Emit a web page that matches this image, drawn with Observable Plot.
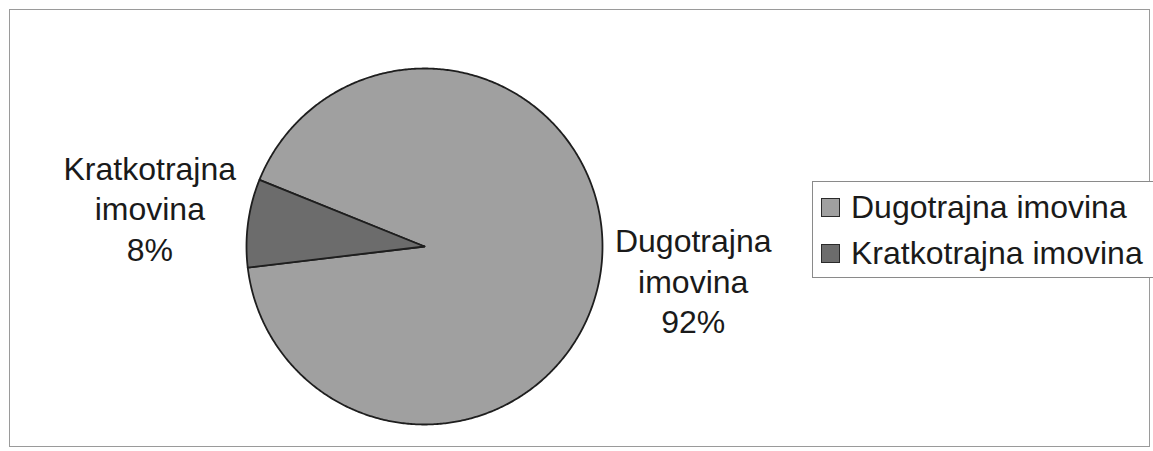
<!DOCTYPE html>
<html>
<head>
<meta charset="utf-8">
<script src="https://cdn.jsdelivr.net/npm/d3@7"></script>
<script src="https://cdn.jsdelivr.net/npm/@observablehq/plot@0.6"></script>
<style>
  html, body { margin: 0; padding: 0; background: #fff; overflow: hidden; }
  #wrap { position: relative; width: 1153px; height: 451px; font-family: "Liberation Sans", Arial, sans-serif; }
  #border { position: absolute; left: 9px; top: 9px; width: 1141px; height: 438px; border: 1.5px solid #9a9a9a; box-sizing: border-box; pointer-events: none; }
  #legend { position: absolute; left: 812px; top: 181px; width: 350px; height: 97px; border: 1px solid #8a8a8a; box-sizing: border-box; background: #fff; padding-top: 2px; }
  .row { display: flex; align-items: center; height: 46px; padding-left: 8px; font-size: 32px; color: #1a1a1a; white-space: nowrap; }
  .sw { width: 19px; height: 19px; border: 1.6px solid #2a2a2a; box-sizing: border-box; margin-right: 11px; }
</style>
</head>
<body>
<div id="wrap"></div>
<script>
// Data
const categories = ["Dugotrajna imovina", "Kratkotrajna imovina"];
const labelLines = [["Dugotrajna", "imovina"], ["Kratkotrajna", "imovina"]];
const values = [92, 8];
const colors = ["#a0a0a0", "#6c6c6c"];

// Layout
const W = 1153, H = 451;
const cx = 424, cy = 246, R = 178;
const plotLeft = 10, plotRight = 1150, plotTop = 9, plotBottom = 447;
const startDeg = 292;

const total = d3.sum(values);
const pie = d3.pie().sort(null)
  .startAngle(startDeg * Math.PI / 180)
  .endAngle(startDeg * Math.PI / 180 + 2 * Math.PI);
const arcs = pie(values);

const pts = [];
arcs.forEach((a, i) => {
  const name = categories[i];
  pts.push({name, x: 0, y: 0});
  const n = Math.max(2, Math.ceil((a.endAngle - a.startAngle) / (Math.PI / 360)));
  for (let k = 0; k <= n; k++) {
    const t = a.startAngle + (a.endAngle - a.startAngle) * k / n;
    pts.push({name, x: Math.sin(t), y: Math.cos(t)});
  }
  pts.push({name, x: 0, y: 0});
});

const labels = arcs.map((a, i) => {
  const m = (a.startAngle + a.endAngle) / 2;
  const f = 1.54;
  return {
    x: Math.sin(m) * f,
    y: Math.cos(m) * f,
    text: labelLines[i].join("\n") + "\n" + Math.round(values[i] / total * 100) + "%"
  };
});

const plot = Plot.plot({
  width: W,
  height: H,
  marginLeft: plotLeft,
  marginRight: W - plotRight,
  marginTop: plotTop,
  marginBottom: H - plotBottom,
  x: {domain: [(plotLeft - cx) / R, (plotRight - cx) / R], axis: null},
  y: {domain: [(cy - plotBottom) / R, (cy - plotTop) / R], axis: null},
  color: {domain: categories, range: colors},
  style: {fontFamily: "'Liberation Sans', Arial, sans-serif", background: "transparent"},
  marks: [
    Plot.line(pts, {x: "x", y: "y", z: "name", fill: "name", stroke: "#1e1e1e", strokeWidth: 1.8, curve: "linear", strokeLinejoin: "round"}),
    Plot.text(labels, {x: "x", y: "y", text: "text", fontSize: 32, lineHeight: 1.27, dx: -3, dy: -3, textAnchor: "middle", lineAnchor: "middle", fill: "#1a1a1a"})
  ]
});

const wrap = document.getElementById("wrap");
wrap.appendChild(plot);
const border = document.createElement("div");
border.id = "border";
wrap.appendChild(border);

const color = plot.scale("color");
const legend = document.createElement("div");
legend.id = "legend";
color.domain.forEach((d, i) => {
  const row = document.createElement("div");
  row.className = "row";
  const sw = document.createElement("div");
  sw.className = "sw";
  sw.style.background = color.range[i];
  const t = document.createElement("span");
  t.textContent = d;
  row.appendChild(sw);
  row.appendChild(t);
  legend.appendChild(row);
});
wrap.appendChild(legend);
</script>
</body>
</html>
